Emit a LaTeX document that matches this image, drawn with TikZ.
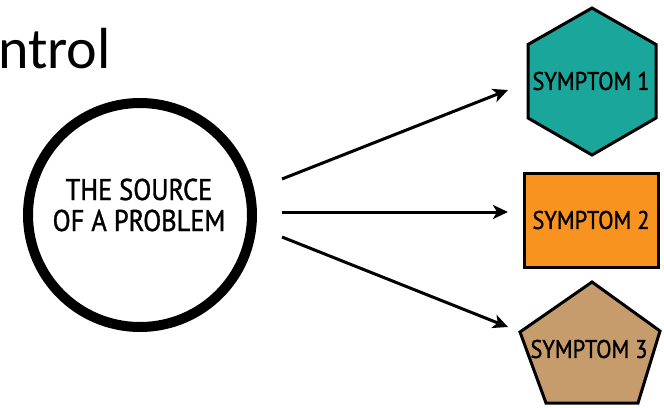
\documentclass[tikz,border=0pt]{standalone}
\usepackage{fontspec}
\usetikzlibrary{arrows.meta,shapes.geometric}
\setmainfont{Carlito}
\newfontfamily\handfont[FakeStretch=0.88,FakeBold=1.2]{PT Sans}
\definecolor{tealfill}{HTML}{1AA69A}
\definecolor{orangefill}{HTML}{F7931E}
\definecolor{tanfill}{HTML}{C69C6D}
\begin{document}
\begin{tikzpicture}[x=1pt,y=-1pt,
  hand/.style={font=\handfont\fontsize{30}{31}\selectfont, align=center, inner sep=0pt},
  symlabel/.style={font=\handfont\fontsize{25.5}{28}\selectfont},
  shapeline/.style={draw=black, line width=3pt, line join=miter},
  arr/.style={line width=3pt, -{Stealth[length=15pt,width=14pt,inset=4pt]}}]
  \useasboundingbox (0,0) rectangle (664,407);
  \clip (0,0) rectangle (664,407);

  % heading fragment
  \node[anchor=base west, inner sep=0pt, font=\fontsize{58}{60}\selectfont] (head) at (-2,68) {ntrol};

  % source circle and its caption
  \node[circle, draw=black, line width=10pt, minimum size=224pt, inner sep=0pt] (src) at (140,215) {};
  \node[hand] (srctext) at (139,205) {THE SOURCE\\OF A PROBLEM};

  % symptom shapes
  \draw[shapeline, fill=tealfill] (592,8) -- (656,44.5) -- (656,118) -- (592,155) -- (528,118) -- (528,44.5) -- cycle;
  \node[symlabel] (s1) at (591,81) {SYMPTOM 1};

  \node[rectangle, shapeline, fill=orangefill, minimum width=134pt, minimum height=94pt, inner sep=0pt,
        symlabel] (s2) at (591,220) {SYMPTOM 2};

  \draw[shapeline, fill=tanfill] (592,282) -- (660,331) -- (638,403) -- (546,403) -- (520,332) -- cycle;
  \node[symlabel] (s3) at (589,349) {SYMPTOM 3};

  % connectors
  \coordinate (a1s) at (282,179); \coordinate (a1e) at (508,90);
  \coordinate (a2s) at (282,212); \coordinate (a2e) at (508,212);
  \coordinate (a3s) at (282,237); \coordinate (a3e) at (508,327);
  \draw[arr] (a1s) -- (a1e);
  \draw[arr] (a2s) -- (a2e);
  \draw[arr] (a3s) -- (a3e);
\end{tikzpicture}
\end{document}
